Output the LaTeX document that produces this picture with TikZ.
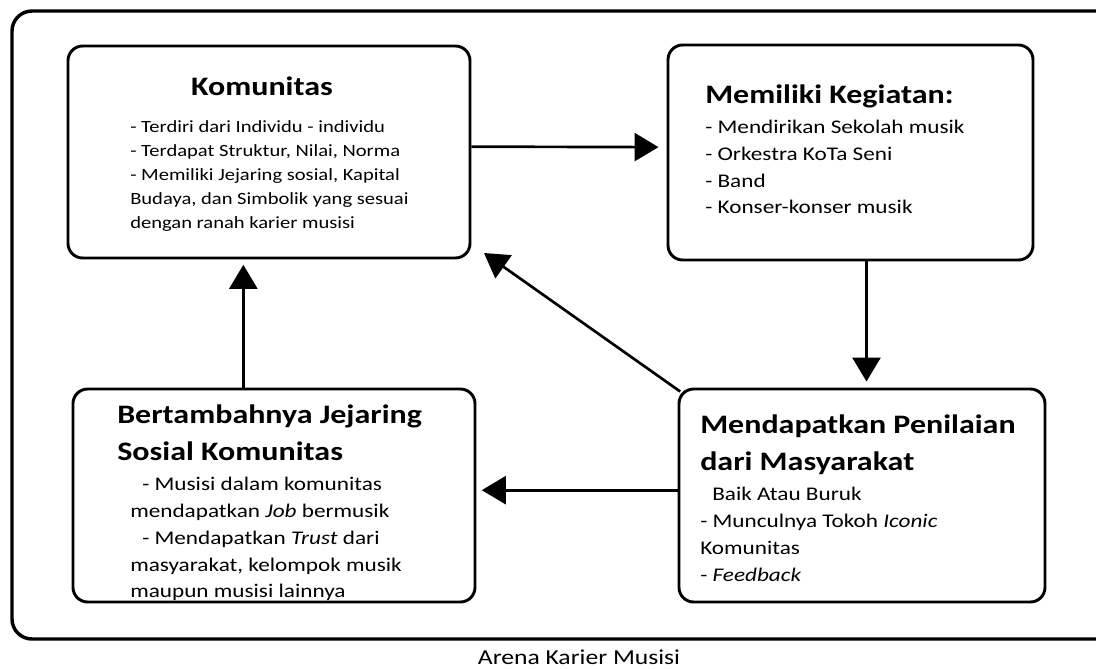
\documentclass[tikz,border=0pt]{standalone}
\usepackage{fontspec}
\setmainfont{Carlito}[FakeStretch=1.2]
\usetikzlibrary{arrows.meta,fit}
\begin{document}
\begin{tikzpicture}[x=0.75pt,y=-0.75pt,
  box/.style={draw,line width=2.2pt,rounded corners=11pt,inner sep=0pt},
  frame/.style={draw,line width=2.6pt,rounded corners=15pt},
  arr/.style={line width=2pt,-{Triangle[length=18pt,width=21pt]}},
  title/.style={font=\bfseries\fontsize{20}{28}\selectfont,inner sep=0pt},
  body/.style={font=\fontsize{12.85}{18}\selectfont,align=left,inner sep=0pt,anchor=north west},
  bodywide/.style={body,font=\fontsize{14.5}{20.2}\selectfont}]
\useasboundingbox (0,0) rectangle (1096,668);
% outer arena frame, its right side runs past the page edge
\draw[frame] (12,11) rectangle (1120,639);

% the four stages
\node[box,fit={(68,46) (470,258)}] (kom) {};
\node[box,fit={(668,45) (1033,260)}] (mem) {};
\node[box,fit={(73,389) (475,602)}] (bert) {};
\node[box,fit={(679,389) (1045,602)}] (men) {};

% Komunitas
\node[title,anchor=base] (komT) at (262,95) {Komunitas};
\node[body] (komB) at (130,120) {- Terdiri dari Individu - individu\\
- Terdapat Struktur, Nilai, Norma\\
- Memiliki Jejaring sosial, Kapital\\
Budaya, dan Simbolik yang sesuai\\
dengan ranah karier musisi};

% Memiliki Kegiatan
\node[title,anchor=base west] (memT) at (705,103) {Memiliki Kegiatan:};
\node[bodywide] (memB) at (705,119.5) {- Mendirikan Sekolah musik\\
- Orkestra KoTa Seni\\
- Band\\
- Konser-konser musik};

% Bertambahnya Jejaring Sosial Komunitas
\node[title,anchor=base west] (bertT) at (117,423) {Bertambahnya Jejaring};
\node[title,anchor=base west] (bertT2) at (117,460) {Sosial Komunitas};
\node[bodywide] (bertB) at (130,476.5) {\hspace{9pt}- Musisi dalam komunitas\\
mendapatkan \textit{Job} bermusik\\
\hspace{9pt}- Mendapatkan \textit{Trust} dari\\
masyarakat, kelompok musik\\
maupun musisi lainnya};

% Mendapatkan Penilaian dari Masyarakat
\node[title,anchor=base west] (menT) at (700,433) {Mendapatkan Penilaian};
\node[title,anchor=base west] (menT2) at (700,470) {dari Masyarakat};
\node[bodywide] (menB) at (700,486.5) {\hspace{9pt}Baik Atau Buruk\\
- Munculnya Tokoh \textit{Iconic}\\
Komunitas\\
- \textit{Feedback}};

% caption of the arena
\node[font=\fontsize{16}{18}\selectfont,anchor=base,inner sep=0pt] (cap) at (579,664) {Arena Karier Musisi};

% flow between the stages
\coordinate (diagtip) at (484,253);
\draw[arr,shorten >=6pt] ([yshift=4pt]kom.east) -- ([yshift=4pt]mem.west);
\draw[arr,shorten >=4.5pt] ([xshift=12pt]mem.south) -- ([xshift=12pt]mem.south |- men.north);
\draw[arr] ([shift={(2pt,-3pt)}]men.north west) -- (diagtip);
\draw[arr,shorten >=4pt] ([yshift=4pt]men.west) -- ([yshift=4pt]men.west -| bert.east);
\draw[arr,shorten >=4pt] ([xshift=-23pt]bert.north) -- ([xshift=-23pt]bert.north |- kom.south);
\end{tikzpicture}
\end{document}
